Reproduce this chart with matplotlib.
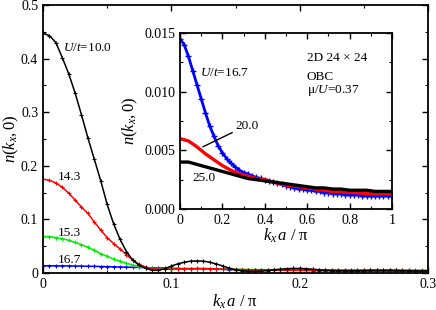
import matplotlib
matplotlib.use("Agg")
import matplotlib.pyplot as plt
from matplotlib.ticker import MultipleLocator, FormatStrFormatter, FuncFormatter

plt.rcParams["font.family"] = ["Liberation Serif", "DejaVu Serif"]
plt.rcParams["mathtext.fontset"] = "custom"
plt.rcParams["mathtext.rm"] = "Liberation Serif"
plt.rcParams["mathtext.it"] = "Liberation Serif:italic"

# main panel: k_x a / pi on a 0.005 grid
k_main = [i * 0.005 for i in range(61)]

n_10 = [0.447, 0.443, 0.430, 0.402, 0.372, 0.336, 0.295, 0.252, 0.212, 0.172,
        0.128, 0.092, 0.063, 0.040, 0.024, 0.014, 0.009, 0.005, 0.005, 0.008,
        0.013, 0.017, 0.020, 0.022, 0.0225, 0.022, 0.020, 0.017, 0.013, 0.009,
        0.006, 0.004, 0.003, 0.003, 0.0035, 0.0045, 0.006, 0.007, 0.008, 0.0085,
        0.0085, 0.008, 0.007, 0.006, 0.005, 0.0045, 0.004, 0.004, 0.004, 0.0042,
        0.0045, 0.0048, 0.005, 0.005, 0.005, 0.0048, 0.0045, 0.0043, 0.004, 0.004,
        0.004]
n_14 = [0.175, 0.173, 0.168, 0.160, 0.149, 0.136, 0.123, 0.111, 0.095, 0.080,
        0.066, 0.055, 0.045, 0.034, 0.024, 0.016, 0.011, 0.008, 0.007, 0.007,
        0.0072, 0.0076, 0.008, 0.0083, 0.0084, 0.0083, 0.008, 0.0076, 0.0072, 0.0068,
        0.0065, 0.0062, 0.006, 0.0059, 0.0058, 0.0058, 0.0057, 0.0057, 0.0056, 0.0056,
        0.0055, 0.0055, 0.0054, 0.0054, 0.0053, 0.0053, 0.0052, 0.0052, 0.0051, 0.0051,
        0.005, 0.005, 0.0049, 0.0049, 0.0048, 0.0048, 0.0047, 0.0047, 0.0046, 0.0046,
        0.0045]
n_15 = [0.068, 0.068, 0.066, 0.064, 0.061, 0.057, 0.053, 0.048, 0.042, 0.036,
        0.031, 0.026, 0.022, 0.018, 0.015, 0.012, 0.010, 0.009, 0.008, 0.0078,
        0.0076, 0.0075, 0.0075, 0.0074, 0.0073, 0.0072, 0.0071, 0.007, 0.0069, 0.0068,
        0.0067, 0.0066, 0.0065, 0.0064, 0.0063, 0.0062, 0.0062, 0.0061, 0.006, 0.006,
        0.0059, 0.0058, 0.0058, 0.0057, 0.0056, 0.0056, 0.0055, 0.0055, 0.0054, 0.0054,
        0.0053, 0.0053, 0.0052, 0.0052, 0.0051, 0.0051, 0.005, 0.005, 0.005, 0.005,
        0.005]
n_16 = [0.0135, 0.0135, 0.0134, 0.0133, 0.0132, 0.013, 0.0128, 0.0126, 0.0124, 0.0121,
        0.0118, 0.0115, 0.0112, 0.0109, 0.0106, 0.0103, 0.0100, 0.0097, 0.0094, 0.0091,
        0.0088, 0.0085, 0.0082, 0.0079, 0.0076, 0.0073, 0.0071, 0.0069, 0.0067, 0.0065,
        0.0063, 0.0061, 0.0059, 0.0057, 0.0055, 0.0054, 0.0052, 0.0051, 0.005, 0.0049,
        0.0048, 0.0047, 0.0046, 0.0045, 0.0043, 0.0042, 0.0041, 0.004, 0.0039, 0.0038,
        0.0037, 0.0036, 0.0036, 0.0035, 0.0034, 0.0034, 0.0033, 0.0033, 0.0032, 0.0032,
        0.0031]

# inset: U/t = 16.7, 20.0, 25.0 over the full zone
k_in_blue = [i * 0.02 for i in range(51)]
in_16 = [0.0145, 0.0140, 0.0130, 0.0118, 0.0106, 0.0094, 0.0082, 0.0071, 0.0062, 0.0054,
         0.0048, 0.0043, 0.0039, 0.0036, 0.0033, 0.0031, 0.0030, 0.0028, 0.0027, 0.0026,
         0.0025, 0.0024, 0.0023, 0.0022, 0.0021, 0.0020, 0.0019, 0.0018, 0.0017, 0.0017,
         0.0016, 0.0016, 0.0015, 0.0015, 0.0014, 0.0014, 0.0013, 0.0013, 0.0013, 0.0012,
         0.0012, 0.0012, 0.0012, 0.0011, 0.0011, 0.0011, 0.0011, 0.0011, 0.0011, 0.0011,
         0.0011]
k_in = [i * 0.04 for i in range(26)]
in_20 = [0.0060, 0.0058, 0.0053, 0.0047, 0.0042, 0.0037, 0.0033, 0.0030, 0.0028, 0.0026,
         0.0025, 0.0023, 0.0021, 0.0020, 0.0019, 0.0018, 0.0017, 0.0016, 0.0015, 0.0015,
         0.0014, 0.0014, 0.0013, 0.0013, 0.0013, 0.0013]
in_25 = [0.0040, 0.0040, 0.0038, 0.0036, 0.0034, 0.0032, 0.0030, 0.0028, 0.0026, 0.0025,
         0.0024, 0.0023, 0.0022, 0.0021, 0.0020, 0.0019, 0.0018, 0.0018, 0.0017, 0.0017,
         0.0016, 0.0016, 0.0016, 0.0015, 0.0015, 0.0015]


def short_label(x, _pos):
    if abs(x) < 1e-12:
        return "0"
    return f"{x:g}"


def style_axes(ax, lw=1.3):
    for s in ax.spines.values():
        s.set_linewidth(lw)
    ax.tick_params(which="both", direction="in", top=True, right=True, labelsize=10)
    ax.tick_params(which="major", length=4.5, width=1.0)
    ax.tick_params(which="minor", length=2.5, width=0.8)


fig = plt.figure(figsize=(4.36, 3.10), dpi=100)
ax = fig.add_axes([0.0986, 0.1194, 0.8831, 0.8645])

mk = dict(marker="+", markersize=3.5, mew=0.8, lw=1.1)
ax.plot(k_main, n_16, color="blue", **mk)
ax.plot(k_main, n_15, color="#00ee00", **mk)
ax.plot(k_main, n_14, color="red", **mk)
ax.plot(k_main, n_10, color="black", **mk)

ax.set_xlim(0, 0.3)
ax.set_ylim(0, 0.5)
ax.xaxis.set_major_locator(MultipleLocator(0.1))
ax.xaxis.set_minor_locator(MultipleLocator(0.05))
ax.yaxis.set_major_locator(MultipleLocator(0.1))
ax.yaxis.set_minor_locator(MultipleLocator(0.05))
ax.xaxis.set_major_formatter(FuncFormatter(short_label))
ax.yaxis.set_major_formatter(FuncFormatter(short_label))
style_axes(ax)
ax.set_xlabel(r"$k_x\,a\ /\ \mathrm{\pi}$", fontsize=12, labelpad=1)
ax.set_ylabel(r"$n(k_x,0)$", fontsize=12)
ax.yaxis.set_label_coords(-0.058, 0.5)

fs = 9.5
ax.text(0.0158, 0.419, r"$U/t$=10.0", fontsize=fs, va="center")
ax.text(0.0119, 0.179, "14.3", fontsize=fs, va="center")
ax.text(0.0119, 0.0746, "15.3", fontsize=fs, va="center")
ax.text(0.0119, 0.0243, "16.7", fontsize=fs, va="center")

# inset
ins = fig.add_axes([0.4128, 0.3258, 0.4862, 0.5677])
ins.plot(k_in_blue, in_16, color="blue", marker="+", markersize=4, mew=1.0, lw=2.0)
ins.plot(k_in, in_20, color="red", lw=2.4)
ins.plot(k_in, in_25, color="black", lw=2.4)
ins.set_xlim(0, 1)
ins.set_ylim(0, 0.015)
ins.xaxis.set_major_locator(MultipleLocator(0.2))
ins.xaxis.set_minor_locator(MultipleLocator(0.1))
ins.yaxis.set_major_locator(MultipleLocator(0.005))
ins.yaxis.set_minor_locator(MultipleLocator(0.0025))
ins.xaxis.set_major_formatter(FuncFormatter(short_label))
ins.yaxis.set_major_formatter(FormatStrFormatter("%.3f"))
style_axes(ins)
ins.set_xlabel(r"$k_x\,a\ /\ \mathrm{\pi}$", fontsize=12, labelpad=0)
ins.set_ylabel(r"$n(k_x,0)$", fontsize=12)
ins.yaxis.set_label_coords(-0.19, 0.5)

ins.text(0.094, 0.0116, r"$U/t$=16.7", fontsize=fs, va="center")
ins.annotate("20.0", xy=(0.108, 0.0053), xytext=(0.26, 0.0066), fontsize=fs,
             va="bottom", arrowprops=dict(arrowstyle="-", color="black", lw=1.0,
                                          shrinkA=0, shrinkB=0))
ins.text(0.061, 0.00264, "25.0", fontsize=fs, va="center")
ins.text(0.598, 0.01284, "2D 24 \u00d7 24", fontsize=fs, va="center")
ins.text(0.598, 0.01128, "OBC", fontsize=fs, va="center")
ins.text(0.598, 0.01014, "\u03bc/$U$=0.37", fontsize=fs, va="center")

fig.savefig("out.png", dpi=100)
